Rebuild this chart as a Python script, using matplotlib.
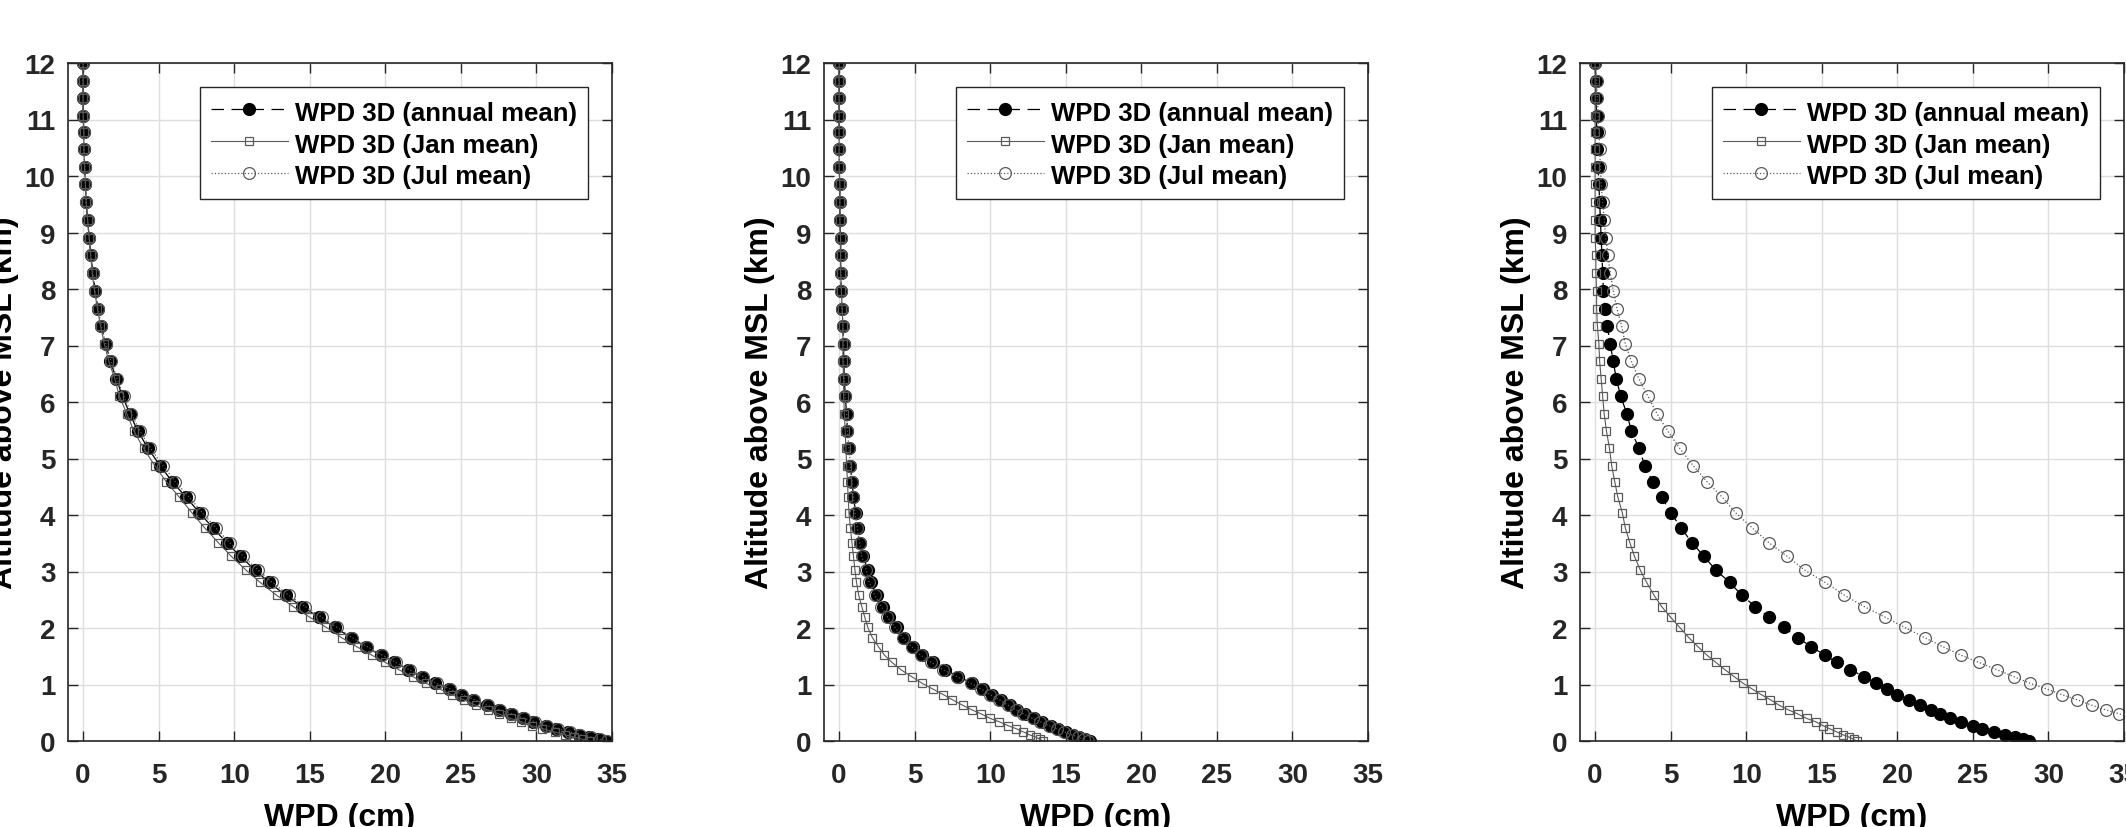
import matplotlib
matplotlib.use("Agg")
import matplotlib.pyplot as plt

plt.rcParams['font.family'] = ['Liberation Sans', 'DejaVu Sans']
plt.rcParams['font.weight'] = 'bold'

# altitude levels (km), top to bottom
alt = [12.00, 11.69, 11.38, 11.07, 10.77, 10.47, 10.16, 9.85, 9.54, 9.22,
       8.91, 8.60, 8.29, 7.97, 7.65, 7.35, 7.03, 6.72, 6.41, 6.10,
       5.79, 5.49, 5.18, 4.87, 4.59, 4.32, 4.04, 3.77, 3.51, 3.27,
       3.02, 2.81, 2.58, 2.38, 2.19, 2.01, 1.83, 1.67, 1.52, 1.39,
       1.26, 1.14, 1.02, 0.92, 0.82, 0.73, 0.63, 0.55, 0.48, 0.40,
       0.34, 0.27, 0.22, 0.16, 0.11, 0.07, 0.03, 0.00]

# panel 1 (cm)
annual_1 = [0.0, 0.0, 0.0, 0.0, 0.05, 0.05, 0.1, 0.15, 0.2, 0.3,
            0.4, 0.5, 0.65, 0.8, 1.0, 1.2, 1.5, 1.8, 2.2, 2.6,
            3.1, 3.6, 4.3, 5.1, 5.9, 6.8, 7.7, 8.6, 9.5, 10.4,
            11.4, 12.3, 13.4, 14.5, 15.6, 16.7, 17.7, 18.7, 19.7, 20.6,
            21.5, 22.4, 23.3, 24.2, 25.0, 25.8, 26.7, 27.5, 28.3, 29.1,
            29.8, 30.6, 31.3, 32.1, 32.8, 33.5, 34.1, 34.6]
jan_1 = [0.0, 0.0, 0.0, 0.0, 0.05, 0.05, 0.1, 0.15, 0.2, 0.3,
         0.4, 0.5, 0.6, 0.75, 0.95, 1.15, 1.4, 1.7, 2.1, 2.4,
         2.9, 3.35, 4.0, 4.75, 5.5, 6.35, 7.2, 8.05, 8.95, 9.8,
         10.8, 11.7, 12.8, 13.9, 15.0, 16.1, 17.1, 18.1, 19.1, 20.0,
         20.9, 21.8, 22.7, 23.6, 24.4, 25.2, 26.0, 26.8, 27.5, 28.3,
         29.0, 29.7, 30.4, 31.2, 31.9, 32.5, 33.1, 33.5]
jul_1 = [0.0, 0.0, 0.0, 0.0, 0.05, 0.05, 0.1, 0.15, 0.2, 0.3,
         0.4, 0.5, 0.65, 0.8, 1.0, 1.2, 1.5, 1.85, 2.25, 2.7,
         3.2, 3.75, 4.45, 5.3, 6.1, 7.0, 7.9, 8.8, 9.7, 10.6,
         11.6, 12.5, 13.6, 14.7, 15.8, 16.8, 17.8, 18.8, 19.8, 20.7,
         21.6, 22.5, 23.4, 24.3, 25.1, 25.9, 26.8, 27.6, 28.4, 29.2,
         29.9, 30.7, 31.4, 32.2, 32.9, 33.6, 34.2, 34.7]

# panel 2 (cm)
annual_2 = [0.0, 0.0, 0.0, 0.0, 0.0, 0.0, 0.0, 0.05, 0.05, 0.05,
            0.1, 0.1, 0.1, 0.15, 0.2, 0.25, 0.3, 0.3, 0.35, 0.4,
            0.5, 0.55, 0.65, 0.75, 0.85, 0.95, 1.1, 1.25, 1.4, 1.6,
            1.9, 2.1, 2.5, 2.9, 3.3, 3.8, 4.3, 4.9, 5.5, 6.2,
            7.0, 7.9, 8.8, 9.5, 10.1, 10.7, 11.3, 11.8, 12.3, 12.9,
            13.4, 14.0, 14.5, 15.0, 15.5, 15.9, 16.3, 16.6]
jan_2 = [0.0, 0.0, 0.0, 0.0, 0.0, 0.0, 0.0, 0.05, 0.05, 0.05,
         0.1, 0.1, 0.1, 0.15, 0.2, 0.25, 0.25, 0.25, 0.3, 0.3,
         0.35, 0.4, 0.45, 0.5, 0.55, 0.6, 0.65, 0.75, 0.85, 0.95,
         1.05, 1.15, 1.3, 1.5, 1.7, 1.9, 2.2, 2.6, 3.0, 3.5,
         4.1, 4.8, 5.5, 6.2, 6.9, 7.5, 8.2, 8.8, 9.4, 10.0,
         10.6, 11.2, 11.7, 12.2, 12.6, 13.0, 13.3, 13.5]
jul_2 = [0.0, 0.0, 0.0, 0.0, 0.0, 0.0, 0.0, 0.05, 0.05, 0.05,
         0.1, 0.1, 0.1, 0.15, 0.2, 0.25, 0.3, 0.3, 0.35, 0.4,
         0.5, 0.55, 0.65, 0.75, 0.85, 0.95, 1.05, 1.2, 1.35, 1.5,
         1.8, 2.0, 2.35, 2.8, 3.2, 3.7, 4.2, 4.8, 5.4, 6.1,
         6.9, 7.8, 8.7, 9.4, 10.0, 10.6, 11.2, 11.7, 12.2, 12.8,
         13.3, 13.9, 14.4, 14.9, 15.4, 15.8, 16.2, 16.5]

# panel 3 (cm)
annual_3 = [0.0, 0.05, 0.05, 0.1, 0.1, 0.15, 0.2, 0.25, 0.3, 0.35,
            0.4, 0.45, 0.5, 0.55, 0.65, 0.8, 1.0, 1.2, 1.4, 1.7,
            2.1, 2.4, 2.9, 3.3, 3.8, 4.4, 5.0, 5.7, 6.4, 7.2,
            8.0, 8.9, 9.7, 10.6, 11.5, 12.5, 13.4, 14.3, 15.2, 16.0,
            16.9, 17.8, 18.6, 19.3, 20.0, 20.8, 21.5, 22.2, 22.8, 23.5,
            24.2, 25.0, 25.6, 26.4, 27.1, 27.8, 28.3, 28.7]
jan_3 = [0.0, 0.0, 0.0, 0.0, 0.0, 0.0, 0.0, 0.0, 0.0, 0.0,
         0.0, 0.05, 0.05, 0.1, 0.1, 0.15, 0.25, 0.3, 0.4, 0.5,
         0.6, 0.75, 0.95, 1.1, 1.3, 1.5, 1.8, 2.0, 2.3, 2.6,
         3.0, 3.4, 3.9, 4.4, 5.0, 5.6, 6.2, 6.8, 7.4, 8.0,
         8.6, 9.2, 9.8, 10.4, 11.0, 11.6, 12.2, 12.8, 13.4, 14.0,
         14.6, 15.1, 15.5, 16.0, 16.4, 16.8, 17.1, 17.3]
jul_3 = [0.0, 0.1, 0.15, 0.2, 0.25, 0.3, 0.35, 0.4, 0.5, 0.6,
         0.7, 0.85, 1.0, 1.2, 1.45, 1.75, 2.0, 2.4, 2.9, 3.5,
         4.1, 4.8, 5.6, 6.5, 7.4, 8.4, 9.3, 10.4, 11.5, 12.7,
         13.9, 15.2, 16.5, 17.8, 19.2, 20.5, 21.8, 23.0, 24.2, 25.4,
         26.6, 27.7, 28.8, 29.9, 30.9, 31.9, 32.9, 33.8, 34.7, 35.6,
         36.4, 37.2, 37.9, 38.6, 39.3, 39.9, 40.5, 41.0]

panels = [(annual_1, jan_1, jul_1), (annual_2, jan_2, jul_2), (annual_3, jan_3, jul_3)]
labels = ['WPD 3D (annual mean)', 'WPD 3D (Jan mean)', 'WPD 3D (Jul mean)']
lefts = [68, 824, 1580]

W, H = 2126, 828
fig = plt.figure(figsize=(W / 100, H / 100), dpi=100)

for left, (ann, jan, jul) in zip(lefts, panels):
    ax = fig.add_axes([left / W, (H - 742) / H, 544 / W, 678 / H])
    ax.plot(ann, alt, color='k', ls=(0, (10, 6)), lw=0.9, marker='o', ms=8.5,
            mfc='k', mec='k', label=labels[0])
    ax.plot(jan, alt, color='0.35', ls='-', lw=0.8, marker='s', ms=6,
            mfc='none', mec='0.35', mew=0.9, label=labels[1])
    ax.plot(jul, alt, color='0.35', ls=':', lw=0.9, marker='o', ms=8.5,
            mfc='none', mec='0.35', mew=0.9, label=labels[2])

    ax.set_xlim(-1, 35)
    ax.set_ylim(0, 12)
    ax.set_xticks(range(0, 36, 5))
    ax.set_yticks(range(0, 13))
    ax.grid(True, color='0.87', lw=1)
    ax.set_axisbelow(True)
    ax.tick_params(direction='in', length=7, width=1, colors='0.15',
                   top=True, right=True, labelsize=20)
    ax.tick_params(axis='x', pad=15)
    ax.tick_params(axis='y', pad=9)
    for s in ax.spines.values():
        s.set_color('0.15')
        s.set_linewidth(1.2)
    ax.set_xlabel('WPD (cm)', fontsize=23, fontweight='bold', labelpad=10)
    ax.set_ylabel('Altitude above MSL (km)', fontsize=23, fontweight='bold', labelpad=4)

    leg = ax.legend(loc='upper right', fontsize=18.5, handlelength=3.0,
                    handleheight=1.2, handletextpad=0.3, labelspacing=0.2,
                    borderpad=0.4, borderaxespad=0.95, fancybox=False,
                    framealpha=1)
    leg.get_frame().set_edgecolor('0.15')
    leg.get_frame().set_linewidth(1.0)
    for t in leg.get_texts():
        t.set_fontweight('bold')

fig.savefig('out.png', dpi=100)
